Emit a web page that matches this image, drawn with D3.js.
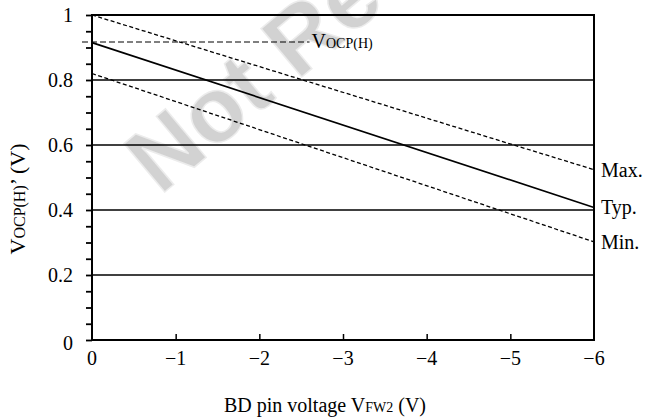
<!DOCTYPE html>
<html>
<head>
<meta charset="utf-8">
<script src="https://cdn.jsdelivr.net/npm/d3@7"></script>
<style>
  body { margin: 0; background: #fff; }
  svg text { font-family: "Liberation Serif", "DejaVu Serif", serif; }
</style>
</head>
<body>
<div id="chart"></div>
<script>
// values
const xValues = [0, -6];
const maxLine = [1.0, 0.524];
const typLine = [0.915, 0.408];
const minLine = [0.82, 0.302];
const vocpH = 0.917;
const xTicks = [0, -1, -2, -3, -4, -5, -6];
const yTicks = [0, 0.2, 0.4, 0.6, 0.8, 1];
const seriesLabels = ["Max.", "Typ.", "Min."];

const width = 649, height = 420;
const margin = { left: 92, right: 55, top: 15, bottom: 80 };
const serif = "'Liberation Serif', 'Times New Roman', serif";

const svg = d3.select("#chart").append("svg")
  .attr("width", width)
  .attr("height", height);

const x = d3.scaleLinear().domain([0, -6]).range([margin.left, width - margin.right]);
const y = d3.scaleLinear().domain([0, 1]).range([height - margin.bottom, margin.top]);

// watermark (drawn first so the lines sit on top)
svg.append("text")
  .attr("transform", "translate(160,196) rotate(-40)")
  .style("font-family", "'Liberation Sans', Arial, sans-serif")
  .style("font-weight", "bold")
  .style("font-size", "92px")
  .attr("fill", "#d2d2d2")
  .attr("stroke", "#ececec")
  .attr("stroke-width", 1.5)
  .text("Not Recommended");

// horizontal grid lines
svg.append("g")
  .selectAll("line")
  .data(yTicks.filter(d => d > 0 && d < 1))
  .join("line")
  .attr("x1", x(0)).attr("x2", x(-6))
  .attr("y1", d => y(d)).attr("y2", d => y(d))
  .attr("stroke", "#000").attr("stroke-width", 1.5);

// frame
svg.append("rect")
  .attr("x", x(0)).attr("y", y(1))
  .attr("width", x(-6) - x(0)).attr("height", y(0) - y(1))
  .attr("fill", "none").attr("stroke", "#000").attr("stroke-width", 2);

// y axis: major + minor ticks outward
const yAxis = svg.append("g").attr("transform", `translate(${x(0)},0)`);
yAxis.call(d3.axisLeft(y).tickValues(d3.range(0, 1.001, 0.05)).tickSize(6).tickFormat(""))
  .call(g => g.select(".domain").remove())
  .call(g => g.selectAll(".tick line").attr("stroke", "#000").attr("stroke-width", 1.8));

svg.append("g")
  .selectAll("text")
  .data(yTicks)
  .join("text")
  .attr("x", x(0) - 19)
  .attr("y", d => y(d) + (d === 0 ? 3 : 0))
  .attr("dy", "0.35em")
  .attr("text-anchor", "end")
  .style("font-family", serif)
  .style("font-size", "20px")
  .text(d => d3.format("~g")(d));

// x axis: ticks inward
const xAxis = svg.append("g").attr("transform", `translate(0,${y(0)})`);
xAxis.call(d3.axisTop(x).tickValues(xTicks.slice(1, -1)).tickSize(6).tickFormat(""))
  .call(g => g.select(".domain").remove())
  .call(g => g.selectAll(".tick line").attr("stroke", "#000").attr("stroke-width", 1.5));

svg.append("g")
  .selectAll("text")
  .data(xTicks)
  .join("text")
  .attr("x", d => x(d))
  .attr("y", y(0) + 25)
  .attr("text-anchor", "middle")
  .style("font-family", serif)
  .style("font-size", "20px")
  .text(d => d === 0 ? "0" : "\u2212" + Math.abs(d));

// lines
const series = [
  { name: seriesLabels[0], values: maxLine, dash: "4,2.5", w: 1.3 },
  { name: seriesLabels[1], values: typLine, dash: null, w: 1.6 },
  { name: seriesLabels[2], values: minLine, dash: "4,2.5", w: 1.3 }
];

const line = d3.line().x(d => x(d[0])).y(d => y(d[1]));

svg.append("g")
  .selectAll("path")
  .data(series)
  .join("path")
  .attr("d", d => line(xValues.map((v, i) => [v, d.values[i]])))
  .attr("fill", "none")
  .attr("stroke", "#000")
  .attr("stroke-width", d => d.w)
  .attr("stroke-dasharray", d => d.dash);

svg.append("g")
  .selectAll("text")
  .data(series)
  .join("text")
  .attr("x", x(-6) + 7)
  .attr("y", d => y(d.values[1]))
  .attr("dy", "0.35em")
  .style("font-family", serif)
  .style("font-size", "20px")
  .text(d => d.name);

// VOCP(H) reference line
svg.append("line")
  .attr("x1", x(0) - 10).attr("x2", x(-2.6))
  .attr("y1", y(vocpH)).attr("y2", y(vocpH))
  .attr("stroke", "#000").attr("stroke-width", 1.2)
  .attr("stroke-dasharray", "6,3");

const vlab = svg.append("text")
  .attr("x", x(-2.6) + 2)
  .attr("y", y(vocpH) + 6)
  .style("font-family", serif)
  .style("font-size", "20px");
vlab.append("tspan").text("V");
vlab.append("tspan").style("font-size", "14px").text("OCP(H)");

// axis titles
const xt = svg.append("text")
  .attr("x", (x(0) + x(-6)) / 2 - 18)
  .attr("y", 412)
  .attr("text-anchor", "middle")
  .style("font-family", serif)
  .style("font-size", "20px");
xt.append("tspan").text("BD pin voltage V");
xt.append("tspan").style("font-size", "14px").text("FW2");
xt.append("tspan").text(" (V)");

const yt = svg.append("text")
  .attr("transform", "translate(25,199) rotate(-90)")
  .attr("text-anchor", "middle")
  .style("font-family", serif)
  .style("font-size", "22px");
yt.append("tspan").text("V");
yt.append("tspan").style("font-size", "16px").text("OCP(H)");
yt.append("tspan").text("\u2019 (V)");
</script>
</body>
</html>
